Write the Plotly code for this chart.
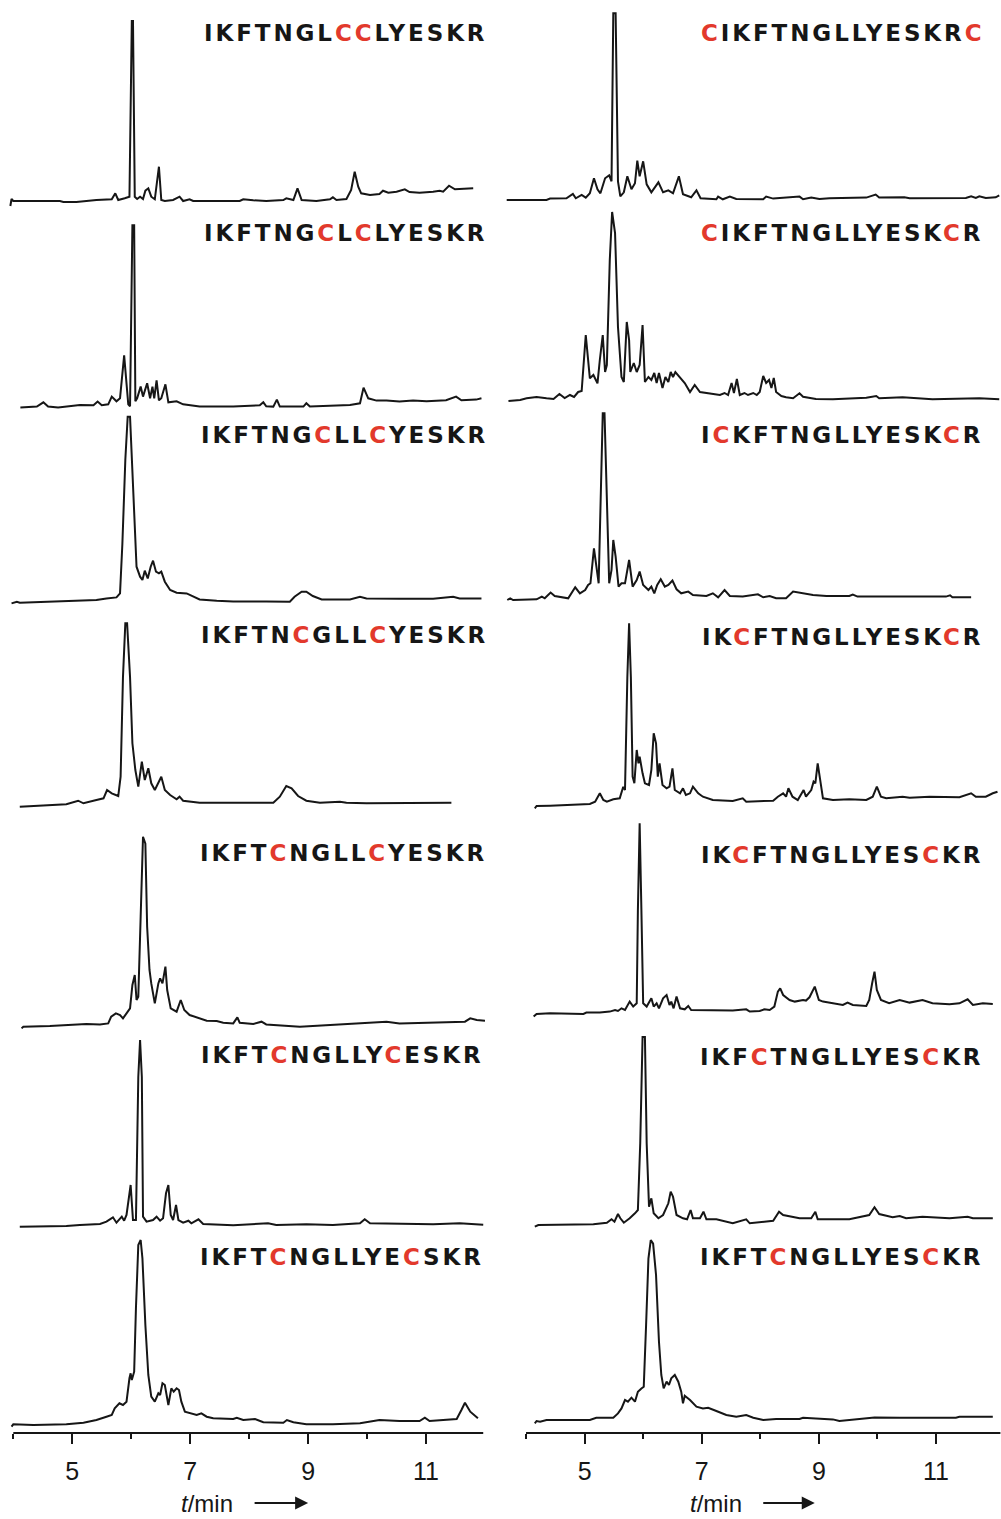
import plotly.graph_objects as go

# ---- chromatogram readings: retention time (min) and detector signal (a.u.) ----
# left column
t_L1 = [3.95, 3.97, 4.00, 4.79, 4.85, 5.07, 5.41, 5.67, 5.73, 5.78, 5.89, 5.97, 6.01, 6.03, 6.06, 6.10, 6.15, 6.20, 6.24, 6.29, 6.34, 6.40, 6.47, 6.51, 6.57, 6.71, 6.82, 6.88, 6.99, 7.05, 7.84, 7.90, 8.07, 8.29, 8.58, 8.63, 8.75, 8.82, 8.89, 9.14, 9.37, 9.42, 9.48, 9.65, 9.73, 9.79, 9.85, 9.90, 10.05, 10.21, 10.27, 10.36, 10.50, 10.64, 10.72, 10.89, 11.12, 11.23, 11.29, 11.39, 11.49, 11.68, 11.80]
s_L1 = [-5, 2, 0, 0, -1, -1, 1, 1.7, 7.7, 1, 2.7, 4.3, 180, 180, 4.3, 2, 4.3, 2, 10.3, 12.7, 4.3, 1.7, 34.3, 1, 0, 1, 4.3, 0, 1.7, 0, 0, 1.7, 0.7, 0, 1, 2.7, 1, 12.7, 1, 0, 1.7, 3.7, 1, 2, 11, 29.3, 14.3, 7.7, 6, 7, 10.3, 8.3, 9.3, 11.7, 9, 8.3, 9.3, 10.3, 9.3, 15.3, 11.7, 12, 12.7]

t_L2 = [4.12, 4.40, 4.51, 4.59, 4.76, 4.90, 5.13, 5.36, 5.43, 5.50, 5.61, 5.67, 5.75, 5.81, 5.88, 5.95, 5.98, 6.02, 6.05, 6.07, 6.10, 6.16, 6.20, 6.27, 6.32, 6.36, 6.39, 6.43, 6.47, 6.51, 6.58, 6.63, 6.77, 6.88, 7.16, 7.73, 8.18, 8.24, 8.29, 8.41, 8.47, 8.52, 8.92, 8.97, 9.03, 9.71, 9.88, 9.94, 10.02, 10.16, 10.33, 10.55, 10.78, 11.01, 11.34, 11.51, 11.60, 11.85, 11.94]
s_L2 = [0.7, 1.7, 6, 1.7, 0.7, 1.7, 3.3, 3, 6.7, 3, 4, 11.7, 7, 10, 53, 4, 2, 183, 183, 7, 10, 21.7, 11.7, 25, 10, 21.7, 10, 28, 8, 10, 24, 6, 7, 4, 1.7, 1.7, 3, 6, 2, 1.7, 8.7, 1.7, 1.7, 5, 1.7, 3.3, 5, 20.7, 10, 7.7, 7.7, 6.7, 7.7, 7, 8, 11.7, 8, 8.7, 10]

t_L3 = [3.97, 4.06, 4.11, 4.62, 5.19, 5.41, 5.58, 5.75, 5.81, 5.85, 5.90, 5.94, 5.98, 6.01, 6.05, 6.09, 6.15, 6.19, 6.23, 6.28, 6.33, 6.37, 6.42, 6.47, 6.51, 6.57, 6.66, 6.77, 6.94, 7.05, 7.16, 7.45, 7.73, 8.29, 8.69, 8.77, 8.89, 8.97, 9.08, 9.23, 9.42, 9.71, 9.88, 9.99, 10.55, 11.12, 11.46, 11.57, 11.94]
s_L3 = [-1.7, 0, -1, 0, 1, 1.7, 3.3, 4.3, 8.3, 58, 142, 185, 185, 142, 75, 35, 25, 21.7, 31, 23.3, 35, 41, 30, 28.3, 30, 20, 11.7, 9, 8.3, 5.7, 2.3, 1, 0.3, 0.3, 0, 5, 10, 10, 5.7, 2.3, 2.3, 2.3, 5, 3.3, 3, 3, 5, 3.3, 3.3]

t_L4 = [4.11, 4.34, 4.90, 5.10, 5.19, 5.41, 5.53, 5.59, 5.67, 5.78, 5.82, 5.86, 5.90, 5.93, 5.98, 6.02, 6.07, 6.12, 6.18, 6.23, 6.29, 6.34, 6.40, 6.51, 6.57, 6.66, 6.77, 6.82, 6.88, 7.16, 7.73, 8.41, 8.52, 8.63, 8.72, 8.83, 8.97, 9.20, 9.54, 9.65, 9.99, 10.55, 11.43]
s_L4 = [-1.7, -1, 0.7, 4.3, 1.7, 5, 6.7, 15, 11.7, 9, 28.3, 128, 181.7, 181.7, 128, 61.7, 35, 18.3, 43.3, 25, 36.7, 21.7, 15, 28.3, 15, 10, 5.7, 8.3, 4.3, 2.3, 2.3, 2.3, 8.3, 19, 16.7, 9, 4.3, 2.3, 3.3, 2.3, 1.7, 1.7, 2.3]

t_L5 = [4.14, 4.17, 4.62, 5.02, 5.24, 5.47, 5.61, 5.66, 5.74, 5.81, 5.86, 5.92, 5.98, 6.02, 6.06, 6.09, 6.12, 6.16, 6.20, 6.24, 6.27, 6.31, 6.34, 6.40, 6.46, 6.49, 6.53, 6.58, 6.61, 6.67, 6.77, 6.84, 6.90, 6.99, 7.16, 7.28, 7.45, 7.56, 7.73, 7.80, 7.84, 8.07, 8.21, 8.29, 8.86, 9.42, 9.99, 10.33, 10.55, 11.12, 11.66, 11.75, 11.86, 12.0]
s_L5 = [-1.7, 0, 0.7, 1.7, 2.7, 2.3, 3.3, 10, 13.3, 11.7, 8.3, 13.3, 18.3, 41.7, 51.7, 26.7, 30, 110, 190, 183, 100, 56.7, 43.3, 23.3, 43.3, 48.3, 43.3, 60, 36.7, 18.3, 15, 26.7, 16.7, 11.7, 8.3, 6, 5.7, 4, 3.3, 9.3, 4, 2.7, 5, 2.3, 0, 1.7, 4, 5, 3.3, 4, 5, 8.3, 6.7, 6]

t_L6 = [4.11, 4.90, 5.13, 5.47, 5.58, 5.69, 5.75, 5.84, 5.88, 5.92, 5.99, 6.03, 6.08, 6.12, 6.15, 6.18, 6.20, 6.26, 6.37, 6.43, 6.49, 6.54, 6.59, 6.63, 6.67, 6.71, 6.76, 6.80, 6.88, 6.97, 7.02, 7.14, 7.22, 7.73, 8.32, 8.46, 8.97, 9.42, 9.88, 9.96, 10.05, 10.55, 11.12, 11.57, 11.97]
s_L6 = [-0.7, 0, 1, 2, 4.3, 8.7, 3.3, 9.3, 5.3, 11, 41, 6, 6, 149, 186, 149, 9.3, 4.3, 6, 9.3, 5.3, 7.7, 32.7, 41, 11, 6, 21, 6, 3.3, 5.3, 2.7, 6.7, 2, 0.7, 2.7, 1, 1.7, 1, 2.7, 6.7, 2.7, 2, 1.7, 2.7, 1.3]

t_L7 = [3.97, 4.00, 4.34, 4.62, 4.90, 5.19, 5.41, 5.58, 5.67, 5.72, 5.80, 5.86, 5.92, 5.97, 5.99, 6.01, 6.05, 6.08, 6.12, 6.16, 6.19, 6.24, 6.29, 6.34, 6.40, 6.46, 6.49, 6.53, 6.57, 6.63, 6.68, 6.72, 6.77, 6.81, 6.85, 6.91, 6.99, 7.11, 7.19, 7.28, 7.39, 7.73, 7.79, 7.90, 8.10, 8.24, 8.58, 8.64, 8.75, 8.97, 9.42, 9.88, 10.21, 10.55, 10.89, 10.98, 11.06, 11.52, 11.60, 11.66, 11.75, 11.88]
s_L7 = [-0.7, 1.7, 1, 1, 1.7, 3.3, 6, 9.3, 11, 17.7, 22.7, 21, 24.3, 47.7, 52.7, 46, 54.3, 117.7, 181, 186, 167.7, 101, 51, 29.3, 24.3, 32.7, 31, 42.7, 41, 21, 37.7, 34.3, 37.7, 36, 24.3, 14.3, 12.7, 11, 12.7, 9.3, 7.7, 7, 8.3, 6, 7, 3.7, 3.3, 6, 3.7, 1.7, 1.7, 2.7, 6, 5, 5, 8.3, 5, 7, 16, 23.3, 14.3, 7.7]

# right column
t_R1 = [3.67, 4.35, 4.41, 4.69, 4.80, 4.85, 4.95, 5.02, 5.09, 5.16, 5.22, 5.27, 5.35, 5.42, 5.46, 5.49, 5.53, 5.57, 5.61, 5.67, 5.73, 5.80, 5.86, 5.90, 5.94, 6.00, 6.06, 6.14, 6.26, 6.34, 6.43, 6.51, 6.61, 6.68, 6.82, 6.91, 6.98, 7.25, 7.28, 7.36, 7.48, 7.59, 8.05, 8.10, 8.22, 8.67, 8.73, 8.87, 9.01, 9.18, 9.81, 9.97, 10.03, 10.46, 10.55, 11.51, 11.60, 11.68, 11.74, 11.85, 12.02, 12.08]
s_R1 = [-0.7, -0.7, 0.7, 1, 5.3, 1, 4.3, 1.7, 6, 21, 10, 6, 21, 24, 18, 186, 186, 18, 3, 7, 23, 10, 16, 38.7, 23, 38, 15, 7, 17, 7, 9, 6, 23, 5, 2, 9, 1, 0, 2.7, 0, 2.7, 0.3, 0, 2.7, 0.7, 2.7, 0, 1.7, 0.3, 1, 1.7, 4.7, 1.7, 2, 1, 1.3, 3, 1.3, 3, 1.3, 2, 4]

t_R2 = [3.70, 3.90, 4.01, 4.18, 4.35, 4.47, 4.57, 4.66, 4.75, 4.82, 4.89, 4.95, 5.02, 5.09, 5.15, 5.22, 5.26, 5.31, 5.35, 5.38, 5.43, 5.47, 5.52, 5.57, 5.63, 5.67, 5.72, 5.76, 5.78, 5.84, 5.89, 5.94, 5.99, 6.03, 6.09, 6.14, 6.19, 6.23, 6.27, 6.33, 6.38, 6.43, 6.47, 6.51, 6.55, 6.63, 6.71, 6.80, 6.88, 6.97, 7.08, 7.19, 7.31, 7.39, 7.45, 7.51, 7.55, 7.60, 7.65, 7.73, 7.79, 7.88, 7.94, 7.99, 8.05, 8.10, 8.15, 8.19, 8.23, 8.27, 8.36, 8.44, 8.56, 8.67, 8.73, 8.95, 9.24, 9.81, 9.98, 10.03, 10.43, 10.94, 11.74, 12.08]
s_R2 = [-1, 0, 1.7, 3, 1.7, 1, 6, 2, 5, 3, 8, 9, 65, 21.7, 25, 16.7, 40, 65, 28, 35, 140, 188, 167, 73, 23, 18, 78, 60, 28, 37, 28, 35, 75, 18, 23, 20, 27, 17, 27, 12, 23, 18, 28, 23, 28, 22, 17, 8, 15, 8, 7, 6, 5, 7, 5, 17, 7, 21, 5, 7, 5, 7, 5, 8, 24, 17, 20, 12, 22, 8, 4, 2.7, 1.7, 6.7, 3.3, 1, 0.7, 2.3, 4, 1.7, 2.7, 0.7, 1.7, 0.7]

t_R3 = [3.68, 3.73, 3.78, 4.18, 4.27, 4.32, 4.42, 4.49, 4.72, 4.84, 4.92, 5.01, 5.06, 5.10, 5.16, 5.20, 5.24, 5.27, 5.31, 5.34, 5.38, 5.42, 5.46, 5.49, 5.53, 5.58, 5.63, 5.69, 5.76, 5.82, 5.89, 5.94, 6.00, 6.09, 6.14, 6.19, 6.24, 6.30, 6.37, 6.43, 6.50, 6.57, 6.65, 6.77, 6.85, 7.08, 7.19, 7.28, 7.39, 7.48, 7.70, 7.96, 8.05, 8.16, 8.27, 8.44, 8.56, 8.67, 8.90, 9.13, 9.52, 9.58, 9.66, 10.38, 11.17, 11.24, 11.28, 11.60]
s_R3 = [-0.7, 1, -0.7, 0, 2.7, 1, 6.7, 3.3, 1, 12, 6, 9.3, 14.3, 16, 51, 32.7, 16, 89, 186, 186, 89, 16, 29.3, 59.3, 42.7, 12.7, 16, 16, 39.3, 12.7, 19.3, 27.7, 14.3, 9.3, 12.7, 6, 14.3, 20, 12.7, 14.3, 18.7, 10, 6, 7.7, 4.3, 3.3, 6, 2, 9.3, 3.3, 2.7, 5, 2, 3.3, 1, 1, 7.7, 6.7, 4.3, 3.3, 3.3, 4.7, 2.7, 2.7, 2.7, 4, 2, 2]

t_R4 = [4.15, 4.18, 4.41, 4.69, 5.09, 5.18, 5.26, 5.32, 5.38, 5.49, 5.60, 5.66, 5.69, 5.73, 5.76, 5.79, 5.82, 5.85, 5.89, 5.92, 5.94, 5.99, 6.03, 6.10, 6.14, 6.18, 6.22, 6.25, 6.28, 6.33, 6.40, 6.45, 6.50, 6.54, 6.63, 6.68, 6.73, 6.80, 6.85, 6.94, 7.02, 7.19, 7.53, 7.70, 7.76, 8.22, 8.30, 8.39, 8.44, 8.48, 8.55, 8.64, 8.74, 8.78, 8.87, 8.91, 8.94, 8.98, 9.02, 9.07, 9.24, 9.52, 9.81, 9.92, 9.99, 10.06, 10.15, 10.43, 10.55, 10.89, 11.40, 11.60, 11.68, 11.85, 11.97, 12.05]
s_R4 = [-3.3, -1, -0.7, 0, 1, 3.3, 11.7, 5, 3.3, 5.7, 6.7, 18.3, 15, 128, 181.7, 128, 28.3, 21.7, 55, 41.7, 48.3, 31.7, 21.7, 20, 35, 71.7, 61.7, 28.3, 41.7, 20, 16.7, 18.3, 36.7, 15, 11.7, 16.7, 10, 11.7, 18.3, 11.7, 8.3, 5, 4, 6.7, 3.3, 4.3, 8.3, 11.7, 8.3, 16.7, 8.3, 5, 15, 8.3, 15, 23.3, 21.7, 41.7, 25, 6.7, 5, 5.7, 5, 8.3, 18.3, 8.3, 6.7, 8.3, 7.3, 8.3, 7.7, 11.7, 8.3, 8.3, 11.7, 13.3]

t_R5 = [4.13, 4.18, 4.41, 4.98, 5.03, 5.26, 5.43, 5.52, 5.57, 5.63, 5.69, 5.77, 5.83, 5.89, 5.91, 5.94, 5.97, 6.00, 6.06, 6.14, 6.18, 6.23, 6.27, 6.34, 6.40, 6.45, 6.48, 6.52, 6.57, 6.63, 6.71, 6.77, 6.82, 7.08, 7.53, 7.76, 7.82, 7.99, 8.07, 8.16, 8.24, 8.30, 8.34, 8.39, 8.50, 8.59, 8.73, 8.78, 8.84, 8.93, 9.00, 9.07, 9.24, 9.41, 9.49, 9.58, 9.81, 9.86, 9.91, 9.95, 9.99, 10.06, 10.20, 10.38, 10.55, 10.77, 10.94, 11.23, 11.40, 11.54, 11.63, 11.80, 11.97]
s_R5 = [-3.3, -0.7, 0, -0.7, 0.7, 0.7, 1.7, 3.3, 2.3, 5, 3.3, 11.7, 6.7, 10, 103, 190, 103, 10, 6.7, 15, 6.7, 10, 5, 15, 18.3, 8.3, 11.7, 5, 16.7, 5, 4, 7.3, 3.3, 3.3, 2.7, 4, 1.7, 2.3, 4, 3.3, 6.7, 21.7, 25, 18.3, 13.3, 11.7, 13.3, 12.7, 16, 26.7, 13.3, 11.7, 10, 8.3, 10.7, 8.3, 7.3, 13.3, 30, 41.7, 23.3, 13.3, 10, 13.3, 10.7, 13.3, 10, 9, 10, 14, 8.3, 10, 9.3]

t_R6 = [4.15, 4.21, 5.15, 5.38, 5.46, 5.51, 5.57, 5.61, 5.67, 5.77, 5.86, 5.91, 5.95, 5.99, 6.03, 6.06, 6.10, 6.14, 6.18, 6.26, 6.34, 6.43, 6.47, 6.51, 6.57, 6.68, 6.75, 6.81, 6.85, 6.97, 7.03, 7.08, 7.25, 7.53, 7.76, 7.82, 8.22, 8.32, 8.39, 8.67, 8.87, 8.94, 8.98, 9.52, 9.86, 9.95, 10.03, 10.26, 10.38, 10.49, 10.77, 11.23, 11.54, 11.63, 11.97]
s_R6 = [-1.7, 0, 0.7, 2.3, 5.7, 3.3, 11, 6.7, 2.3, 6.7, 11.7, 15, 81.7, 188, 188, 81.7, 18.3, 26.7, 11.7, 6.7, 10, 21.7, 33.3, 28.3, 10, 6.7, 5.7, 15, 6.7, 6.7, 13.3, 5.7, 5.7, 1.7, 5.7, 1.7, 4.3, 13.3, 10, 6.7, 6.7, 13.3, 5.7, 5.7, 10, 17.7, 11, 7.7, 9, 6.7, 8.3, 6.7, 8.3, 6.7, 6.7]

t_R7 = [4.15, 4.18, 4.24, 4.35, 5.09, 5.20, 5.49, 5.57, 5.63, 5.69, 5.74, 5.80, 5.86, 5.91, 5.97, 6.01, 6.05, 6.09, 6.13, 6.17, 6.22, 6.27, 6.31, 6.35, 6.40, 6.44, 6.48, 6.54, 6.60, 6.65, 6.68, 6.71, 6.80, 6.91, 7.02, 7.11, 7.25, 7.42, 7.59, 7.76, 7.88, 8.05, 8.27, 8.67, 8.73, 9.24, 9.35, 9.81, 9.95, 10.38, 11.34, 11.40, 11.97]
s_R7 = [-1.7, 0.7, 0, 1.7, 1.7, 4, 4, 8.3, 13.3, 21.7, 20, 24, 20, 30, 33.3, 35, 96.7, 163, 181.7, 178, 146.7, 80, 46.7, 33.3, 40, 36.7, 43.3, 46.7, 40, 30, 18.3, 26, 21.7, 15, 13.3, 14, 10.7, 6.7, 5, 6.7, 4, 1.7, 2.7, 2.7, 4, 2.3, 0.7, 3.3, 4.3, 4, 4, 5, 5]

# peptide sequences (top to bottom); cysteines are highlighted
peptides_left = ["IKFTNGLCCLYESKR", "IKFTNGCLCLYESKR", "IKFTNGCLLCYESKR", "IKFTNCGLLCYESKR",
                 "IKFTCNGLLCYESKR", "IKFTCNGLLYCESKR", "IKFTCNGLLYECSKR"]
peptides_right = ["CIKFTNGLLYESKRC", "CIKFTNGLLYESKCR", "ICKFTNGLLYESKCR", "IKCFTNGLLYESKCR",
                  "IKCFTNGLLYESCKR", "IKFCTNGLLYESCKR", "IKFTCNGLLYESCKR"]

x_ticks = [5, 7, 9, 11]
x_minor_ticks = [4, 6, 8, 10]

# ---- layout of the stacked traces (vertical offsets in pixel-like units) ----
left_traces = [(t_L1, s_L1), (t_L2, s_L2), (t_L3, s_L3), (t_L4, s_L4), (t_L5, s_L5), (t_L6, s_L6), (t_L7, s_L7)]
right_traces = [(t_R1, s_R1), (t_R2, s_R2), (t_R3, s_R3), (t_R4, s_R4), (t_R5, s_R5), (t_R6, s_R6), (t_R7, s_R7)]
left_offsets = [1232, 1024.7, 831.3, 628, 406.3, 207, 7]
right_offsets = [1233.7, 1033, 833.7, 628, 419.7, 208, 11.3]
left_label_y = [1400, 1200, 998, 798, 580, 378, 176]
right_label_y = [1400, 1200, 998, 796, 578, 376, 176]
left_label_x = [489, 489, 490, 490, 489, 486, 486]
right_label_x = [986, 985, 985, 985, 985, 985, 985]

W, H = 1001, 1519
BOTTOM = 86
INK = "#161616"
RED = "#e2392c"
FONT = "Liberation Sans, Arial, Helvetica, sans-serif"
LABEL_FONT = "DejaVu Sans, Liberation Sans, Arial, sans-serif"

fig = go.Figure()

for (tt, ss), off in zip(left_traces, left_offsets):
    fig.add_trace(go.Scatter(x=tt, y=[off + v for v in ss], mode="lines",
                             line=dict(color=INK, width=2),
                             xaxis="x", yaxis="y", hoverinfo="skip", showlegend=False))
for (tt, ss), off in zip(right_traces, right_offsets):
    fig.add_trace(go.Scatter(x=tt, y=[off + v for v in ss], mode="lines",
                             line=dict(color=INK, width=2),
                             xaxis="x2", yaxis="y", hoverinfo="skip", showlegend=False))


def seq_html(seq):
    parts = []
    for ch in seq:
        col = RED if ch == "C" else INK
        parts.append(f'<span style="color:{col};letter-spacing:2.9px">{ch}</span>')
    return "".join(parts)


annotations = []
for seq, ly, lx in zip(peptides_left, left_label_y, left_label_x):
    annotations.append(dict(text=seq_html(seq), xref="paper", yref="y", x=lx / W, y=ly,
                            xanchor="right", yanchor="middle", showarrow=False,
                            font=dict(family=LABEL_FONT, size=23, color=INK, weight="bold")))
for seq, ly, lx in zip(peptides_right, right_label_y, right_label_x):
    annotations.append(dict(text=seq_html(seq), xref="paper", yref="y", x=lx / W, y=ly,
                            xanchor="right", yanchor="middle", showarrow=False,
                            font=dict(family=LABEL_FONT, size=23, color=INK, weight="bold")))

# axis titles with arrows
title_y = -(1503 - (H - BOTTOM)) / (H - BOTTOM)
for xr, xc, xend, alen in (("x", 7.29, 9.0, 55), ("x2", 7.25, 8.93, 53)):
    annotations.append(dict(text="<i>t</i>/min", xref=xr, yref="paper", x=xc, y=title_y,
                            xanchor="center", yanchor="middle", showarrow=False,
                            font=dict(family=FONT, size=24, color=INK)))
    annotations.append(dict(text="", xref=xr, yref="paper", x=xend, y=title_y,
                            ax=-alen, ay=0, showarrow=True, arrowhead=2, arrowsize=1.3,
                            arrowwidth=2, arrowcolor=INK, standoff=0, startstandoff=0))

axis_common = dict(
    tickmode="array", tickvals=x_ticks, ticks="outside", ticklen=10, tickwidth=2,
    tickcolor=INK, showline=False, showgrid=False, zeroline=False,
    tickfont=dict(family=FONT, size=25, color=INK), fixedrange=True,
    ticklabelstandoff=6,
    minor=dict(tickmode="array", tickvals=x_minor_ticks, ticks="outside", ticklen=5,
               tickwidth=2, tickcolor=INK, showgrid=False),
    anchor="y",
)

fig.update_layout(
    width=W, height=H,
    margin=dict(l=0, r=0, t=0, b=BOTTOM),
    paper_bgcolor="white", plot_bgcolor="white",
    showlegend=False,
    xaxis=dict(domain=[7.4 / W, 485 / W], range=[3.9, 12.0], **axis_common),
    xaxis2=dict(domain=[502.6 / W, 1.0], range=[3.6, 12.11], **axis_common),
    yaxis=dict(domain=[0, 1], range=[0, H - BOTTOM], visible=False, fixedrange=True),
    annotations=annotations,
    shapes=[
        dict(type="line", xref="x", yref="paper", x0=4.0, x1=11.97, y0=0, y1=0,
             line=dict(color=INK, width=2)),
        dict(type="line", xref="x2", yref="paper", x0=4.0, x1=12.1, y0=0, y1=0,
             line=dict(color=INK, width=2)),
    ],
)

fig.write_html("out.html")
